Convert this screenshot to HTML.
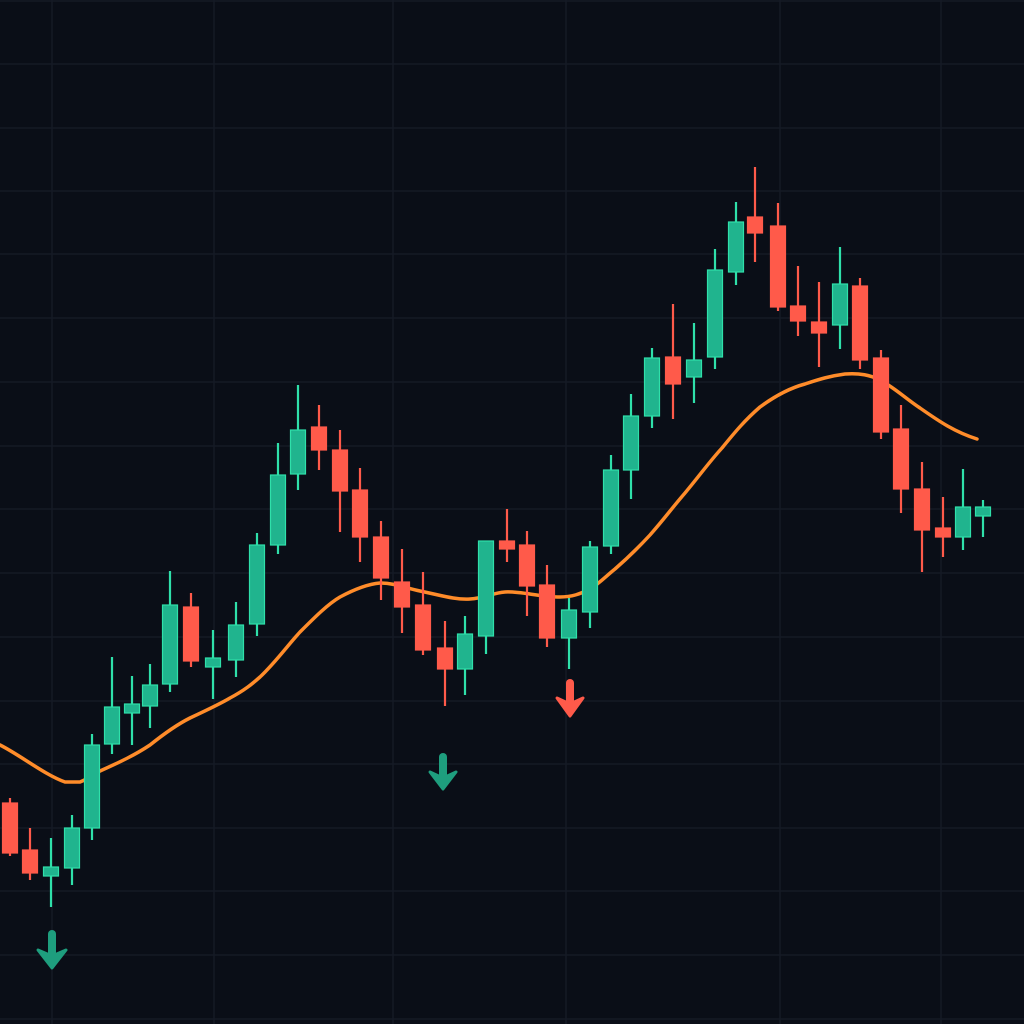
<!DOCTYPE html>
<html><head><meta charset="utf-8"><style>html,body{margin:0;padding:0;background:#0a0e17;}svg{display:block}
.g line{stroke:#2fe0aa;stroke-width:2.2}.g rect{fill:#20b48e;stroke:#2fe0aa;stroke-width:1.2}
.r line{stroke:#ff5a4a;stroke-width:2.2}.r rect{fill:#ff5a4a;stroke:#ff5a4a;stroke-width:1.2}
</style></head>
<body>
<svg width="1024" height="1024" viewBox="0 0 1024 1024" xmlns="http://www.w3.org/2000/svg">
<rect width="1024" height="1024" fill="#0a0e17"/>
<g stroke="#151a25" stroke-width="1.5">
<line x1="52" y1="0" x2="52" y2="1024"/><line x1="214" y1="0" x2="214" y2="1024"/><line x1="393" y1="0" x2="393" y2="1024"/><line x1="566" y1="0" x2="566" y2="1024"/><line x1="780" y1="0" x2="780" y2="1024"/><line x1="941" y1="0" x2="941" y2="1024"/>
<line x1="0" y1="1" x2="1024" y2="1"/><line x1="0" y1="64" x2="1024" y2="64"/><line x1="0" y1="128" x2="1024" y2="128"/><line x1="0" y1="191" x2="1024" y2="191"/><line x1="0" y1="254" x2="1024" y2="254"/><line x1="0" y1="318" x2="1024" y2="318"/><line x1="0" y1="382" x2="1024" y2="382"/><line x1="0" y1="446" x2="1024" y2="446"/><line x1="0" y1="509" x2="1024" y2="509"/><line x1="0" y1="573" x2="1024" y2="573"/><line x1="0" y1="637" x2="1024" y2="637"/><line x1="0" y1="701" x2="1024" y2="701"/><line x1="0" y1="764" x2="1024" y2="764"/><line x1="0" y1="828" x2="1024" y2="828"/><line x1="0" y1="891" x2="1024" y2="891"/><line x1="0" y1="955" x2="1024" y2="955"/><line x1="0" y1="1019" x2="1024" y2="1019"/>
</g>
<path d="M0,745 C20,755 45,775 65,782 L80,782 C90,778 95,774 100,771 C120,762 135,755 150,745 C165,733 178,724 190,718 C205,711 220,704 230,698 C245,690 252,684 260,677 C275,663 288,645 300,632 C315,617 328,604 340,597 C355,589 368,584 380,583 C395,583 405,588 420,591 C440,595 455,600 470,599 C485,598 492,593 505,592 C520,591 540,597 560,597 C572,597 580,594 590,589 C600,583 605,577 615,569 C630,556 638,548 650,535 C665,518 672,508 685,493 C700,475 710,461 722,448 C735,432 745,420 760,407 C775,396 790,388 805,384 C820,379 830,376 845,374 C860,373 870,375 880,380 C895,388 905,398 920,408 C940,422 955,432 977,439" fill="none" stroke="#ff8c2a" stroke-width="3.5" stroke-linecap="round"/>

<g class="r"><line x1="10" y1="798" x2="10" y2="856"/><rect x="2.5" y="803" width="15" height="50"/></g>
<g class="r"><line x1="30" y1="828" x2="30" y2="880"/><rect x="22.5" y="850" width="15" height="23"/></g>
<g class="g"><line x1="51" y1="838" x2="51" y2="907"/><rect x="43.5" y="867" width="15" height="9"/></g>
<g class="g"><line x1="72" y1="815" x2="72" y2="885"/><rect x="64.5" y="828" width="15" height="40"/></g>
<g class="g"><line x1="92" y1="734" x2="92" y2="840"/><rect x="84.5" y="745" width="15" height="83"/></g>
<g class="g"><line x1="112" y1="657" x2="112" y2="754"/><rect x="104.5" y="707" width="15" height="37"/></g>
<g class="g"><line x1="132" y1="676" x2="132" y2="745"/><rect x="124.5" y="704" width="15" height="9"/></g>
<g class="g"><line x1="150" y1="664" x2="150" y2="728"/><rect x="142.5" y="685" width="15" height="21"/></g>
<g class="g"><line x1="170" y1="571" x2="170" y2="692"/><rect x="162.5" y="605" width="15" height="79"/></g>
<g class="r"><line x1="191" y1="593" x2="191" y2="667"/><rect x="183.5" y="607" width="15" height="54"/></g>
<g class="g"><line x1="213" y1="630" x2="213" y2="699"/><rect x="205.5" y="658" width="15" height="9"/></g>
<g class="g"><line x1="236" y1="602" x2="236" y2="677"/><rect x="228.5" y="625" width="15" height="35"/></g>
<g class="g"><line x1="257" y1="533" x2="257" y2="636"/><rect x="249.5" y="545" width="15" height="79"/></g>
<g class="g"><line x1="278" y1="443" x2="278" y2="554"/><rect x="270.5" y="475" width="15" height="70"/></g>
<g class="g"><line x1="298" y1="385" x2="298" y2="490"/><rect x="290.5" y="430" width="15" height="44"/></g>
<g class="r"><line x1="319" y1="405" x2="319" y2="470"/><rect x="311.5" y="427" width="15" height="23"/></g>
<g class="r"><line x1="340" y1="430" x2="340" y2="532"/><rect x="332.5" y="450" width="15" height="41"/></g>
<g class="r"><line x1="360" y1="468" x2="360" y2="562"/><rect x="352.5" y="490" width="15" height="47"/></g>
<g class="r"><line x1="381" y1="521" x2="381" y2="600"/><rect x="373.5" y="537" width="15" height="41"/></g>
<g class="r"><line x1="402" y1="549" x2="402" y2="633"/><rect x="394.5" y="582" width="15" height="25"/></g>
<g class="r"><line x1="423" y1="572" x2="423" y2="655"/><rect x="415.5" y="605" width="15" height="45"/></g>
<g class="r"><line x1="445" y1="621" x2="445" y2="706"/><rect x="437.5" y="648" width="15" height="21"/></g>
<g class="g"><line x1="465" y1="616" x2="465" y2="695"/><rect x="457.5" y="634" width="15" height="35"/></g>
<g class="g"><line x1="486" y1="541" x2="486" y2="654"/><rect x="478.5" y="541" width="15" height="95"/></g>
<g class="r"><line x1="507" y1="509" x2="507" y2="562"/><rect x="499.5" y="541" width="15" height="8"/></g>
<g class="r"><line x1="527" y1="531" x2="527" y2="616"/><rect x="519.5" y="545" width="15" height="41"/></g>
<g class="r"><line x1="547" y1="565" x2="547" y2="647"/><rect x="539.5" y="585" width="15" height="53"/></g>
<g class="g"><line x1="569" y1="598" x2="569" y2="669"/><rect x="561.5" y="610" width="15" height="28"/></g>
<g class="g"><line x1="590" y1="541" x2="590" y2="628"/><rect x="582.5" y="547" width="15" height="65"/></g>
<g class="g"><line x1="611" y1="455" x2="611" y2="554"/><rect x="603.5" y="470" width="15" height="76"/></g>
<g class="g"><line x1="631" y1="394" x2="631" y2="499"/><rect x="623.5" y="416" width="15" height="54"/></g>
<g class="g"><line x1="652" y1="348" x2="652" y2="428"/><rect x="644.5" y="358" width="15" height="58"/></g>
<g class="r"><line x1="673" y1="304" x2="673" y2="419"/><rect x="665.5" y="357" width="15" height="27"/></g>
<g class="g"><line x1="694" y1="323" x2="694" y2="403"/><rect x="686.5" y="360" width="15" height="17"/></g>
<g class="g"><line x1="715" y1="249" x2="715" y2="369"/><rect x="707.5" y="270" width="15" height="87"/></g>
<g class="g"><line x1="736" y1="202" x2="736" y2="285"/><rect x="728.5" y="222" width="15" height="50"/></g>
<g class="r"><line x1="755" y1="167" x2="755" y2="262"/><rect x="747.5" y="217" width="15" height="16"/></g>
<g class="r"><line x1="778" y1="203" x2="778" y2="311"/><rect x="770.5" y="226" width="15" height="81"/></g>
<g class="r"><line x1="798" y1="266" x2="798" y2="336"/><rect x="790.5" y="306" width="15" height="15"/></g>
<g class="r"><line x1="819" y1="282" x2="819" y2="367"/><rect x="811.5" y="322" width="15" height="11"/></g>
<g class="g"><line x1="840" y1="247" x2="840" y2="349"/><rect x="832.5" y="284" width="15" height="41"/></g>
<g class="r"><line x1="860" y1="278" x2="860" y2="369"/><rect x="852.5" y="286" width="15" height="74"/></g>
<g class="r"><line x1="881" y1="350" x2="881" y2="439"/><rect x="873.5" y="358" width="15" height="74"/></g>
<g class="r"><line x1="901" y1="405" x2="901" y2="513"/><rect x="893.5" y="429" width="15" height="60"/></g>
<g class="r"><line x1="922" y1="462" x2="922" y2="572"/><rect x="914.5" y="489" width="15" height="41"/></g>
<g class="r"><line x1="943" y1="497" x2="943" y2="557"/><rect x="935.5" y="528" width="15" height="9"/></g>
<g class="g"><line x1="963" y1="469" x2="963" y2="550"/><rect x="955.5" y="507" width="15" height="30"/></g>
<g class="g"><line x1="983" y1="500" x2="983" y2="537"/><rect x="975.5" y="507" width="15" height="9"/></g>

<g fill="#1e9e7e" stroke="#1e9e7e">
<path d="M52,934 L52,955" stroke-width="8" stroke-linecap="round"/><path d="M38,950 L52,968 L66,950 L52,956 Z" stroke-width="3" stroke-linejoin="round"/>
<path d="M443,757 L443,777" stroke-width="8" stroke-linecap="round"/><path d="M430,772 L443,789 L456,772 L443,778 Z" stroke-width="3" stroke-linejoin="round"/>
</g>
<g fill="#ff5a4a" stroke="#ff5a4a">
<path d="M570,683 L570,703" stroke-width="8" stroke-linecap="round"/><path d="M557,698 L570,716 L583,698 L570,704 Z" stroke-width="3" stroke-linejoin="round"/>
</g>
</svg>
</body></html>
